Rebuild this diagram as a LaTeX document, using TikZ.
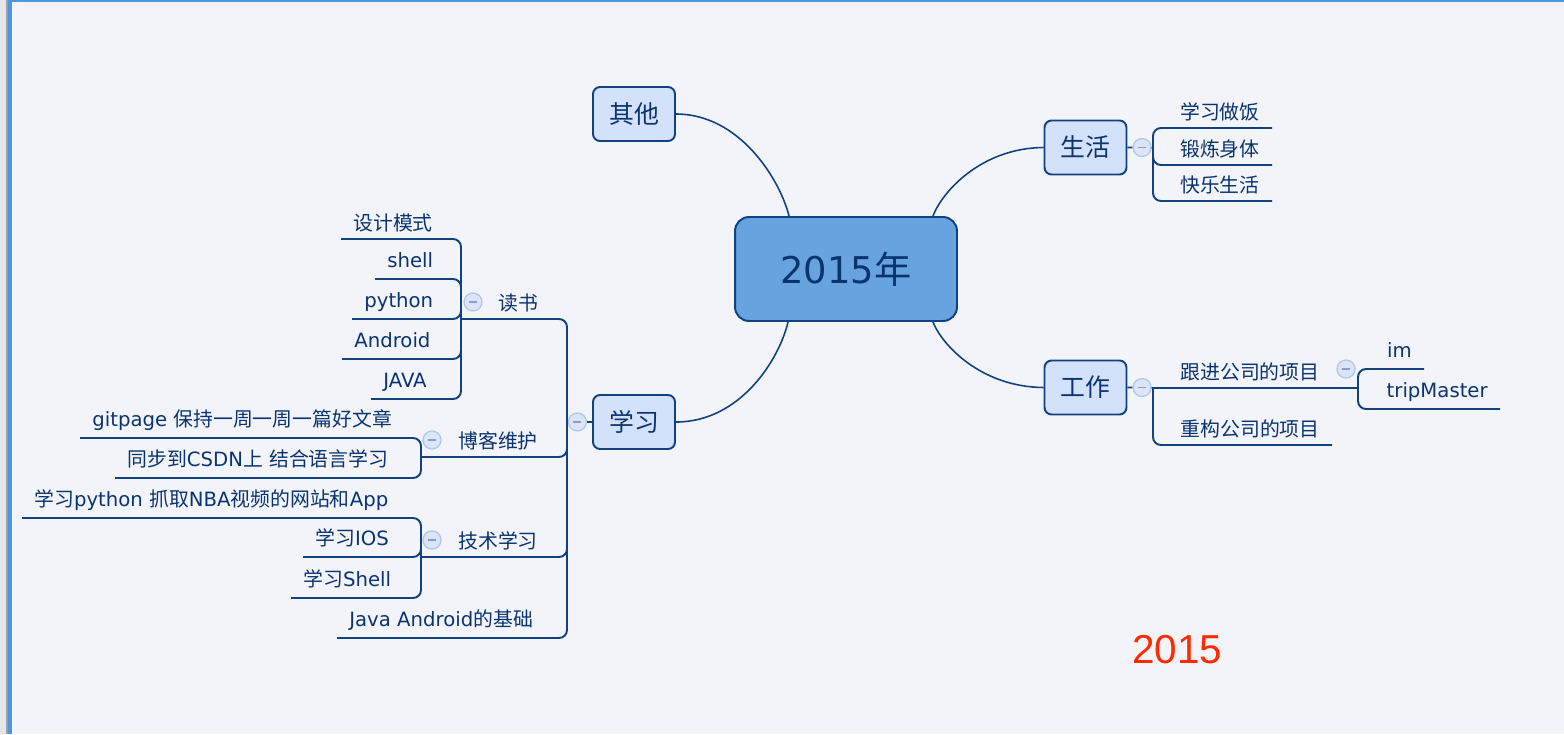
\documentclass[tikz,border=0pt]{standalone}
\usepackage{fontspec}
\setmainfont{DejaVu Sans}
\newfontfamily\cjk[Scale=1.01]{Noto Sans CJK SC}
\newfontfamily\helv{Liberation Sans}
\usetikzlibrary{positioning}
\definecolor{navy}{HTML}{10427F}
\definecolor{inkblue}{HTML}{0A3470}
\definecolor{rootfill}{HTML}{67A3DF}
\definecolor{topicfill}{HTML}{D3E1FA}
\definecolor{bgfill}{HTML}{F2F4F9}
\definecolor{foldfill}{HTML}{DCE5F7}
\definecolor{foldline}{HTML}{AEC5EC}
\definecolor{foldminus}{HTML}{8C9CC7}
\definecolor{stampred}{HTML}{FF2A00}
\definecolor{frameblue}{HTML}{4F96E0}
\definecolor{stripgray}{HTML}{A0A0A0}
\definecolor{striplight}{HTML}{E6E6E6}
\newcommand{\zh}[1]{{\cjk #1}}
\tikzset{
    root_node/.style={rectangle, rounded corners=0.28cm, minimum width=4.44cm, minimum height=2.08cm, fill=rootfill, draw=navy, line width=1.1pt, text=inkblue, font=\fontsize{21pt}{25pt}\selectfont},
    topic_node/.style={rectangle, rounded corners=0.14cm, minimum width=1.64cm, minimum height=1.08cm, fill=topicfill, draw=navy, line width=1.1pt, text=inkblue, font=\fontsize{14pt}{16pt}\selectfont},
    fold_circ/.style={circle, minimum size=0.36cm, inner sep=0pt, fill=foldfill, draw=foldline, line width=0.7pt,
        path picture={\draw[foldminus, line width=1pt] ([xshift=-2.3pt]path picture bounding box.center) -- ([xshift=2.3pt]path picture bounding box.center);}},
    sub_text/.style={inner xsep=0.24cm, inner ysep=2pt, text height=0.8em, text depth=0.25em, text=inkblue, font=\fontsize{11.2pt}{13pt}\selectfont},
    latin_text/.style={sub_text, inner ysep=3.8pt},
    curve_line/.style={draw=navy, line width=0.9pt},
    branch_line/.style={draw=navy, line width=1.1pt, rounded corners=0.16cm},
}

\begin{document}
\begin{tikzpicture}[x=0.02cm, y=-0.02cm]
      \fill [bgfill] (0,0) rectangle (1564,734);
      \fill [striplight] (0,0) rectangle (6,734);
      \fill [stripgray] (6,0) rectangle (8,734);
      \fill [frameblue] (8,0) rectangle (12,734);
      \fill [frameblue] (8,0) rectangle (1564,2);

      \node (root) [root_node] at (846,269) {2015\zh{年}};
      \node (other) [topic_node] at (634,114) {\zh{其他}};
      \node (study) [topic_node] at (634,422) {\zh{学习}};
      \node (life) [topic_node] at (1085.5,147.5) {\zh{生活}};
      \node (work) [topic_node] at (1085.5,387.5) {\zh{工作}};

      \node (study_c) [fold_circ, left=0.1cm of study] {};
      \node (life_c) [fold_circ, right=0.1cm of life] {};
      \node (work_c) [fold_circ, right=0.1cm of work] {};
      \node (track_c) [fold_circ] at (1346,369) {};
      \node (read_c) [fold_circ] at (473,302) {};
      \node (blog_c) [fold_circ] at (432,440) {};
      \node (tech_c) [fold_circ] at (432,540) {};

      \coordinate (life_j) at (1153,148);
      \coordinate (work_j) at (1153,388);
      \coordinate (track_j) at (1358,388);
      \coordinate (study_j) at (567,422);
      \coordinate (read_j) at (461,319);
      \coordinate (blog_j) at (421,457);
      \coordinate (tech_j) at (421,557);

      \node (cook) [sub_text, anchor=south east] at (1272,128) {\zh{学习做饭}};
      \node (sport) [sub_text, anchor=south east] at (1272,165) {\zh{锻炼身体}};
      \node (happy) [sub_text, anchor=south east] at (1272,201) {\zh{快乐生活}};

      \node (track) [sub_text, anchor=south] at (1250,388) {\zh{跟进公司的项目}};
      \node (rebuild) [sub_text, anchor=south east] at (1332,445) {\zh{重构公司的项目}};
      \node (im) [latin_text, anchor=south east] at (1424,369) {im};
      \node (trip) [latin_text, anchor=south east] at (1500,409) {tripMaster};

      \node (read) [sub_text, anchor=south] at (518,319) {\zh{读书}};
      \node (design) [sub_text, anchor=south west] at (341,239) {\zh{设计模式}};
      \node (shell) [latin_text, anchor=south west] at (375,279) {shell};
      \node (python) [latin_text, anchor=south west] at (352,319) {python};
      \node (android) [latin_text, anchor=south west] at (342,359) {Android};
      \node (java) [latin_text, anchor=south west] at (371,399) {JAVA};

      \node (blog) [sub_text, anchor=south] at (498,457) {\zh{博客维护}};
      \node (gitpage) [latin_text, anchor=south west] at (80,438) {gitpage \zh{保持一周一周一篇好文章}};
      \node (csdn) [latin_text, anchor=south west] at (115,478) {\zh{同步到}CSDN\zh{上} \zh{结合语言学习}};

      \node (tech) [sub_text, anchor=south] at (498,557) {\zh{技术学习}};
      \node (nba) [latin_text, anchor=south west] at (22,518) {\zh{学习}python \zh{抓取}NBA\zh{视频的网站和}App};
      \node (ios) [latin_text, anchor=south west] at (303,557) {\zh{学习}IOS};
      \node (shell_study) [latin_text, anchor=south west] at (291,598) {\zh{学习}Shell};

      \node (java_base) [latin_text, anchor=south west] at (337,638) {Java Android\zh{的基础}};

      \node (stamp) [text=stampred, font=\helv\fontsize{23pt}{27pt}\selectfont] at (1177,650) {2015};

      \draw [curve_line] (other.east) .. controls (740,114) and (780,180) .. ([xshift=1.1cm]root.north west);
      \draw [curve_line] (study.east) .. controls (740,422) and (779,360) .. ([xshift=1.08cm]root.south west);
      \draw [curve_line] (life.west) .. controls (981,148) and (942,192) .. ([xshift=-0.5cm]root.north east);
      \draw [curve_line] (work.west) .. controls (981,387) and (942,345) .. ([xshift=-0.5cm]root.south east);

      \draw [branch_line] (life) -- (life_c) -- (life_j);
      \draw [branch_line] (life_j) |- (cook.south east);
      \draw [branch_line] (life_j) |- (sport.south east);
      \draw [branch_line] (life_j) |- (happy.south east);

      \draw [branch_line] (work) -- (work_c) -- (work_j);
      \draw [branch_line] (work_j) -- (track_j);
      \draw [branch_line] (work_j) |- (rebuild.south east);
      \draw [branch_line] (track_j) |- (im.south east);
      \draw [branch_line] (track_j) |- (trip.south east);

      \draw [branch_line] (study) -- (study_c) -- (study_j);
      \draw [branch_line] (study_j) |- (read_j);
      \draw [branch_line] (study_j) |- (blog_j);
      \draw [branch_line] (study_j) |- (tech_j);
      \draw [branch_line] (study_j) |- (java_base.south west);

      \draw [branch_line] (read_j) |- (design.south west);
      \draw [branch_line] (read_j) |- (shell.south west);
      \draw [branch_line] (read_j) |- (python.south west);
      \draw [branch_line] (read_j) |- (android.south west);
      \draw [branch_line] (read_j) |- (java.south west);

      \draw [branch_line] (blog_j) |- (gitpage.south west);
      \draw [branch_line] (blog_j) |- (csdn.south west);

      \draw [branch_line] (tech_j) |- (nba.south west);
      \draw [branch_line] (tech_j) |- (ios.south west);
      \draw [branch_line] (tech_j) |- (shell_study.south west);
   \end{tikzpicture}
\end{document}
